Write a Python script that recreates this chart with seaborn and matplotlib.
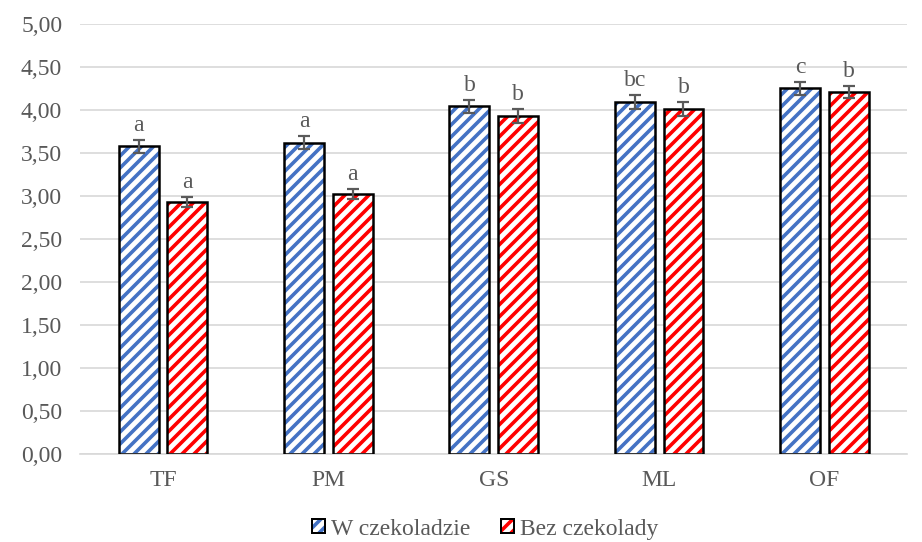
import matplotlib
matplotlib.use("Agg")
import matplotlib.pyplot as plt
from matplotlib.patches import Rectangle, Patch
from matplotlib.ticker import FuncFormatter, MultipleLocator
import pandas as pd
import seaborn as sns

categories = ["TF", "PM", "GS", "ML", "OF"]
series_names = ["W czekoladzie", "Bez czekolady"]
w_czekoladzie = [3.58, 3.62, 4.04, 4.09, 4.25]
bez_czekolady = [2.93, 3.02, 3.93, 4.01, 4.21]
err_w = [0.075, 0.075, 0.08, 0.08, 0.08]
err_bez = [0.06, 0.06, 0.08, 0.08, 0.07]
letters_w = ["a", "a", "b", "bc", "c"]
letters_bez = ["a", "a", "b", "b", "b"]

colors = ["#4472C4", "#FF0000"]
text_grey = "#595959"

# Rendered at 144 dpi; all sizes below are in points.
DPI = 144
FS = 11.8
HATCH = "////"

sns.set_theme(style="white")
plt.rcParams["font.family"] = ["Liberation Serif", "DejaVu Serif"]
plt.rcParams["hatch.linewidth"] = 1.8

df = pd.DataFrame({
    "kat": categories * 2,
    "seria": [series_names[0]] * 5 + [series_names[1]] * 5,
    "wartosc": w_czekoladzie + bez_czekolady,
})

fig = plt.figure(figsize=(922 / DPI, 542 / DPI), dpi=DPI)
ax = fig.add_axes([0.087, 0.162, 0.897, 0.794])

sns.barplot(data=df, x="kat", y="wartosc", hue="seria", order=categories,
            hue_order=series_names, palette=["white", "white"],
            width=0.588, gap=0.18, errorbar=None, legend=False, ax=ax,
            zorder=2)

errs = [err_w, err_bez]
labels = [letters_w, letters_bez]
vals = [w_czekoladzie, bez_czekolady]
bar_containers = list(ax.containers)[:2]
for s_idx, cont in enumerate(bar_containers):
    for i, bar in enumerate(list(cont.patches)):
        bar.set_facecolor("white")
        bar.set_edgecolor(colors[s_idx])
        bar.set_hatch(HATCH)
        bar.set_linewidth(0)
        x0, w = bar.get_x(), bar.get_width()
        h = vals[s_idx][i]
        ax.add_patch(Rectangle((x0, 0), w, h, fill=False, edgecolor="black",
                               linewidth=1.25, zorder=3))
        xc = x0 + w / 2
        ax.errorbar(xc, h, yerr=errs[s_idx][i], fmt="none", ecolor="#5A5A5A",
                    elinewidth=1.1, capsize=3.1, capthick=1.1, zorder=4)
        ax.annotate(labels[s_idx][i], (xc, h + errs[s_idx][i]),
                    xytext=(0, 4.5), textcoords="offset points",
                    ha="center", va="baseline", fontsize=FS, color=text_grey)

ax.set_xlim(-0.5, 4.5)
ax.set_ylim(0, 5.0)
ax.yaxis.set_major_locator(MultipleLocator(0.5))
ax.yaxis.set_major_formatter(FuncFormatter(lambda v, p: f"{v:.2f}".replace(".", ",")))
ax.grid(axis="y", color="#D9D9D9", linewidth=0.85, zorder=0)
ax.set_axisbelow(True)
for sp in ["top", "right", "left"]:
    ax.spines[sp].set_visible(False)
ax.spines["bottom"].set_color("#D9D9D9")
ax.spines["bottom"].set_linewidth(0.85)
ax.tick_params(axis="both", length=0, labelsize=FS, colors=text_grey)
ax.tick_params(axis="y", pad=9)
ax.tick_params(axis="x", pad=8)
ax.set_xlabel("")
ax.set_ylabel("")

handles = [Patch(facecolor="white", edgecolor=colors[k], hatch=HATCH, linewidth=0)
           for k in range(2)]
outline = [Patch(facecolor="none", edgecolor="black", linewidth=1.0) for _ in range(2)]
leg = fig.legend([(handles[k], outline[k]) for k in range(2)], series_names,
                 loc="lower center", bbox_to_anchor=(0.526, -0.035), ncol=2,
                 frameon=False, fontsize=FS, handlelength=0.55, handleheight=0.55,
                 handletextpad=0.25, columnspacing=1.3, labelcolor=text_grey)

fig.savefig("out.png", dpi=DPI)
